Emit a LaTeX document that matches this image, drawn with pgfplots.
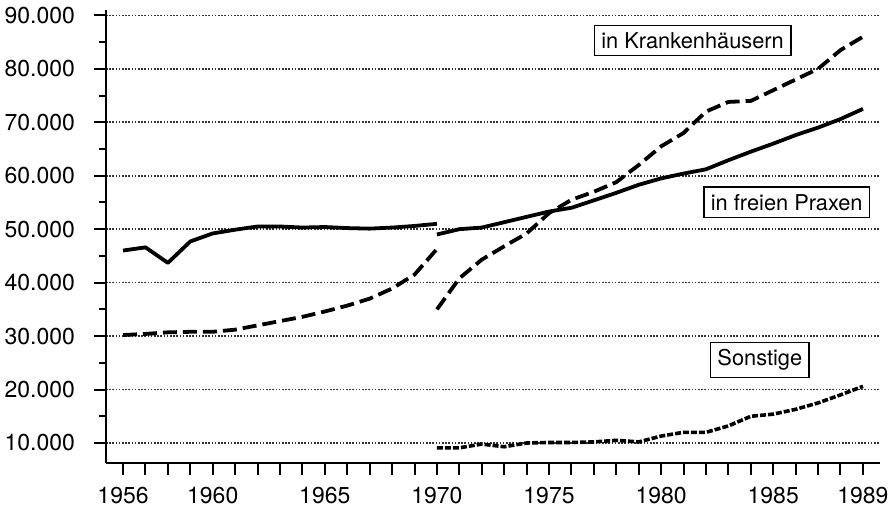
\documentclass[border=0pt]{standalone}
\usepackage{fontspec}
\setmainfont{TeX Gyre Heros}
\usepackage{pgfplots}
\pgfplotsset{compat=1.18}
\tikzset{boxlabel/.style={draw, fill=white, line width=0.8pt, inner xsep=3.5pt, inner ysep=3.5pt, font=\fontsize{10.9}{13}\selectfont}}
\begin{document}
\fontsize{11.5}{13.8}\selectfont
\begin{tikzpicture}
\useasboundingbox (-53pt,-21.5pt) rectangle (393.5pt,231.5pt);
\begin{axis}[
  at={(0,0)}, anchor=south west,
  scale only axis, width=387pt, height=226.5pt,
  xmin=1955.24, xmax=1989.76, ymin=6260, ymax=91000,
  axis x line*=bottom, axis y line*=left,
  axis line style={line width=1.3pt,-},
  tick align=outside,
  tick style={line width=1pt, black},
  major tick length=6pt, minor tick length=3.5pt,
  xtick={1956,...,1989},
  xticklabels={1956,,,,1960,,,,,1965,,,,,1970,,,,,1975,,,,,1980,,,,,1985,,,,1989},
  ytick={10000,20000,...,90000},
  minor ytick={15000,25000,...,85000},
  scaled y ticks=false,
  /pgf/number format/assume math mode=true,
  y tick label style={/pgf/number format/1000 sep={.}, xshift=-5.5pt},
  x tick label style={inner ysep=0pt, yshift=-5.8pt},
  ymajorgrids,
  major grid style={line width=0.8pt, dash pattern=on 0.8pt off 0.8pt, black!80},
  clip=false,
]
% in freien Praxen
\addplot[line width=1.9pt, line join=round] coordinates {
(1956,46000) (1957,46600) (1958,43700) (1959,47700) (1960,49200) (1961,49900)
(1962,50500) (1963,50500) (1964,50300) (1965,50400) (1966,50200) (1967,50100)
(1968,50300) (1969,50600) (1970,51000)};
\addplot[line width=1.9pt, line join=round] coordinates {
(1970,49000) (1971,50000) (1972,50300) (1973,51300) (1974,52300) (1975,53300)
(1976,54000) (1977,55400) (1978,56800) (1979,58300) (1980,59500) (1981,60400)
(1982,61200) (1983,62900) (1984,64500) (1985,66000) (1986,67600) (1987,69000)
(1988,70600) (1989,72500)};
% in Krankenhaeusern
\addplot[line width=1.9pt, dash pattern=on 7pt off 3pt, line join=round] coordinates {
(1956,30200) (1957,30400) (1958,30700) (1959,30800) (1960,30800) (1961,31200)
(1962,32000) (1963,32800) (1964,33600) (1965,34600) (1966,35700) (1967,37000)
(1968,38900) (1969,41500) (1970,46300)};
\addplot[line width=1.9pt, dash pattern=on 7pt off 3pt, line join=round] coordinates {
(1970,35000) (1971,40800) (1972,44300) (1973,46800) (1974,49200) (1975,53000)
(1976,55500) (1977,57000) (1978,58800) (1979,62000) (1980,65500) (1981,68000)
(1982,72000) (1983,73800) (1984,74000) (1985,76000) (1986,78000) (1987,80000)
(1988,83500) (1989,86000)};
% Sonstige
\addplot[line width=1.8pt, dash pattern=on 3pt off 1pt, line join=round] coordinates {
(1970,9100) (1971,9100) (1972,9800) (1973,9300) (1974,10000) (1975,10100)
(1976,10100) (1977,10200) (1978,10500) (1979,10200) (1980,11300) (1981,12000)
(1982,12000) (1983,13200) (1984,15000) (1985,15400) (1986,16300) (1987,17500)
(1988,19000) (1989,20600)};
\node[boxlabel] at (axis cs:1981.4,85300) {in Krankenhäusern};
\node[boxlabel] at (axis cs:1985.6,55000) {in freien Praxen};
\node[boxlabel] at (axis cs:1984.4,25500) {Sonstige};
\end{axis}
\end{tikzpicture}
\end{document}
